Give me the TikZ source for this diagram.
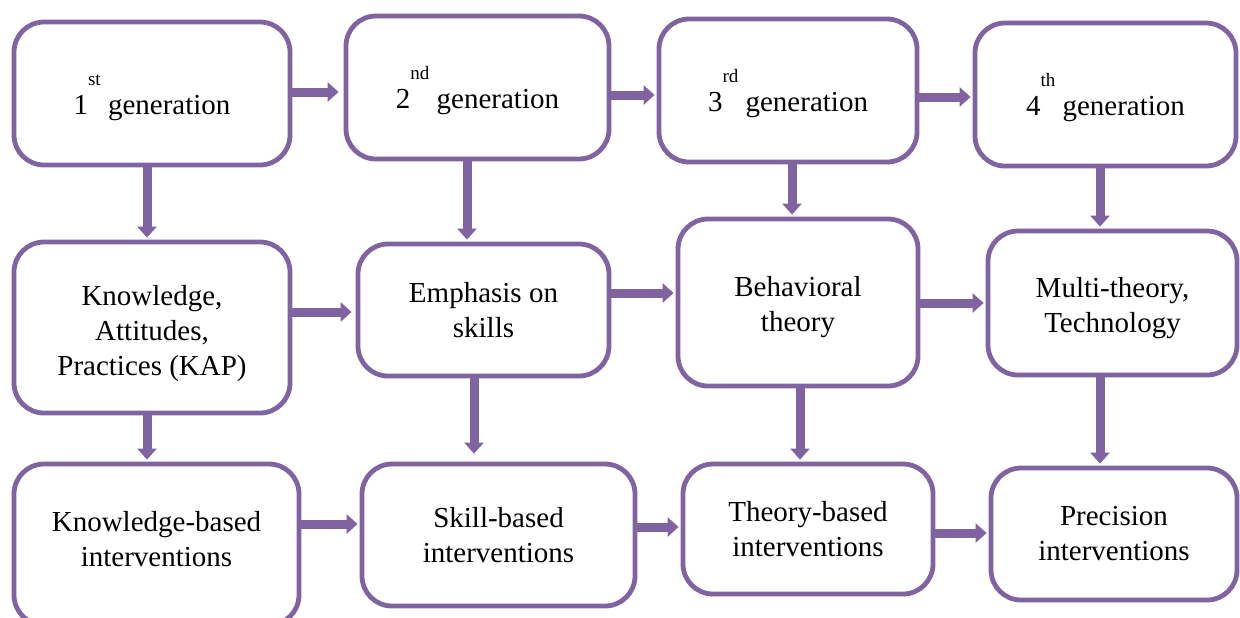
\documentclass[tikz,border=0pt]{standalone}
\usepackage{fontspec}
\setmainfont{Liberation Serif}
\usetikzlibrary{arrows.meta}
\definecolor{purp}{RGB}{128,100,162}
\newcommand{\gen}[2]{\rule{0pt}{24pt}#1\raisebox{14.5pt}{\fontsize{9.5}{9.5}\selectfont #2}\ generation}
\newcommand{\tall}[1]{\rule{0pt}{#1}}
\begin{document}
\begin{tikzpicture}[x=0.5pt,y=-0.5pt,
  box/.style={draw=purp, line width=2.4pt, rounded corners=15pt, fill=white,
    align=center, inner sep=0pt, font=\fontsize{14.5}{17.5}\selectfont},
  arr/.style={draw=purp, line width=4.5pt, -{Triangle[length=5.5pt,width=9.5pt]}, shorten >=1pt}]
\useasboundingbox (0,0) rectangle (1240,617);
% row 1
\node[box, minimum width=138pt, minimum height=71.5pt] (A1) at (152,93.5) {\gen{1}{st}};
\node[box, minimum width=131.5pt, minimum height=71.5pt] (A2) at (477.5,87.5) {\gen{2}{nd}};
\node[box, minimum width=129pt, minimum height=71.5pt] (A3) at (788,90.5) {\gen{3}{rd}};
\node[box, minimum width=130.5pt, minimum height=71.5pt] (A4) at (1105.5,94.5) {\gen{4}{th}};
% row 2
\node[box, minimum width=138pt, minimum height=85.5pt] (B1) at (152,327.5) {\tall{16pt}Knowledge,\\Attitudes,\\Practices (KAP)};
\node[box, minimum width=125.5pt, minimum height=66pt] (B2) at (483.5,310) {Emphasis on\\skills};
\node[box, minimum width=120pt, minimum height=83.5pt] (B3) at (798,302.5) {\tall{15pt}Behavioral\\theory};
\node[box, minimum width=124.5pt, minimum height=72pt] (B4) at (1112.5,303) {\tall{15pt}Multi-theory,\\Technology};
% row 3
\node[box, minimum width=142.5pt, minimum height=80.5pt] (C1) at (156.5,544.5) {Knowledge-based\\interventions\rule[-6pt]{0pt}{0pt}};
\node[box, minimum width=136.5pt, minimum height=71pt] (C2) at (498.5,535) {Skill-based\\interventions};
\node[box, minimum width=125pt, minimum height=65pt] (C3) at (808,529) {Theory-based\\interventions};
\node[box, minimum width=123pt, minimum height=66pt] (C4) at (1114,534) {Precision\\interventions};
% horizontal arrows
\draw[arr, shorten >=2.5pt] (A1.east |- 0,92) -- (A2.west |- 0,92);
\draw[arr] (A2.east |- 0,95) -- (A3.west |- 0,95);
\draw[arr] (A3.east |- 0,97) -- (A4.west |- 0,97);
\draw[arr, shorten >=2pt] (B1.east |- 0,312) -- (B2.west |- 0,312);
\draw[arr] (B2.east |- 0,293) -- (B3.west |- 0,293);
\draw[arr] (B3.east |- 0,303) -- (B4.west |- 0,303);
\draw[arr] (C1.east |- 0,524) -- (C2.west |- 0,524);
\draw[arr] (C2.east |- 0,527) -- (C3.west |- 0,527);
\draw[arr] (C3.east |- 0,533) -- (C4.west |- 0,533);
% vertical arrows
\draw[arr] (A1.south -| 147,0) -- (B1.north -| 147,0);
\draw[arr] (A2.south -| 467,0) -- (B2.north -| 467,0);
\draw[arr] (A3.south -| 792,0) -- (B3.north -| 792,0);
\draw[arr] (A4.south -| 1100,0) -- (B4.north -| 1100,0);
\draw[arr] (B1.south -| 147,0) -- (C1.north -| 147,0);
\draw[arr, shorten >=4pt] (B2.south -| 474,0) -- (C2.north -| 474,0);
\draw[arr] (B3.south -| 800,0) -- (C3.north -| 800,0);
\draw[arr] (B4.south -| 1100,0) -- (C4.north -| 1100,0);
\end{tikzpicture}
\end{document}
